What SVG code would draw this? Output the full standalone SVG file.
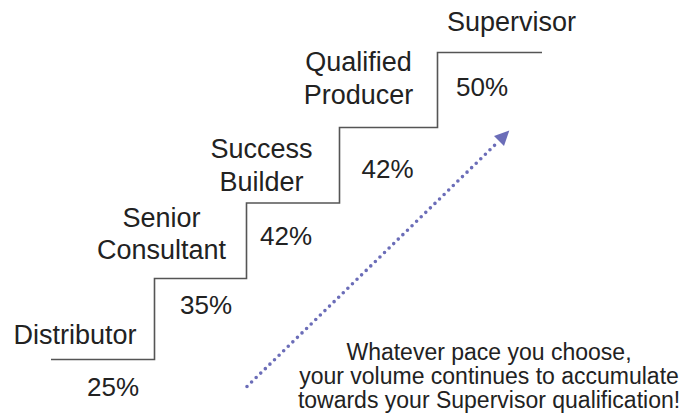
<svg xmlns="http://www.w3.org/2000/svg" width="684" height="420" viewBox="0 0 684 420">
<style>
.lbl{font-family:"Liberation Sans",Arial,sans-serif;font-size:27px;fill:#222;text-anchor:middle}
.pct{font-family:"Liberation Sans",Arial,sans-serif;font-size:26px;fill:#222}
.note{font-family:"Liberation Sans",Arial,sans-serif;font-size:23px;fill:#222;text-anchor:middle}
.stair{fill:none;stroke:#555;stroke-width:1.6}
.arrow{fill:none;stroke:#6b6db8;stroke-width:3.6;stroke-linecap:round;stroke-dasharray:0 6.4}
</style>
<rect width="684" height="420" fill="#fff"/>
<g id="connectors">
<path class="stair" d="M51,359.5 H154.5 V278.5 H246.5 V203 H339.5 V127.5 H437.5 V52.5 H542"/>
<line class="arrow" x1="247" y1="386.5" x2="499" y2="141"/>
<polygon points="509.3,130.5 504,146 494,136" fill="#6b6db8"/>
</g>
<g id="distributor"><text class="lbl" x="75" y="344">Distributor</text><text class="pct" x="87" y="396">25%</text></g>
<g id="senior-consultant"><text class="lbl" x="161.5" y="226.5">Senior</text><text class="lbl" x="161.5" y="258.5">Consultant</text><text class="pct" x="180" y="314">35%</text></g>
<g id="success-builder"><text class="lbl" x="261.5" y="157.5">Success</text><text class="lbl" x="261.5" y="190.5">Builder</text><text class="pct" x="260" y="245">42%</text></g>
<g id="qualified-producer"><text class="lbl" x="358.5" y="70.5">Qualified</text><text class="lbl" x="358.5" y="103.5">Producer</text><text class="pct" x="361.5" y="177.5">42%</text></g>
<g id="supervisor"><text class="lbl" x="511.5" y="30.5">Supervisor</text><text class="pct" x="456" y="95.5">50%</text></g>
<g id="note">
<text class="note" x="489" y="360">Whatever pace you choose,</text>
<text class="note" x="489" y="384">your volume continues to accumulate</text>
<text class="note" x="489" y="407.5">towards your Supervisor qualification!</text>
</g>
</svg>
